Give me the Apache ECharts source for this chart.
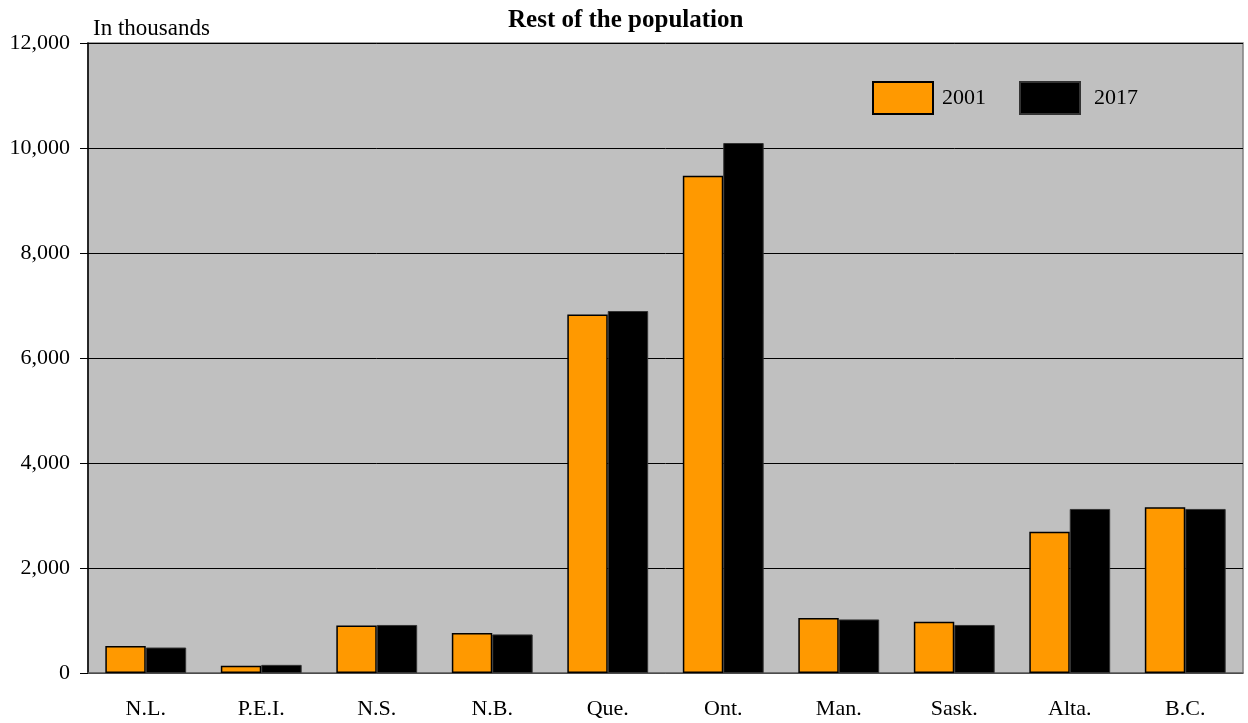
<!DOCTYPE html>
<html>
<head>
<meta charset="utf-8">
<script src="https://cdn.jsdelivr.net/npm/echarts@6/dist/echarts.min.js"></script>
<style>
    html, body { margin: 0; padding: 0; background: #fff; }
    #chart { width: 1248px; height: 723px; }
</style>
</head>
<body>
<div id="chart"></div>
<script>
    // data (thousands)
    var provinces = ['N.L.', 'P.E.I.', 'N.S.', 'N.B.', 'Que.', 'Ont.', 'Man.', 'Sask.', 'Alta.', 'B.C.'];
    var pop2001 = [515, 140, 905, 760, 6830, 9470, 1050, 975, 2690, 3155];
    var pop2017 = [485, 155, 915, 735, 6895, 10095, 1020, 915, 3125, 3125];
    var yTicks = [0, 2000, 4000, 6000, 8000, 10000, 12000];

    var serif = '"Liberation Serif", "DejaVu Serif", serif';
    var myChart = echarts.init(document.getElementById('chart'));

    var option = {
        animation: false,
        textStyle: { fontFamily: serif, color: '#000' },
        title: [{
            text: 'Rest of the population',
            left: 503,
            top: 3,
            textStyle: { fontFamily: serif, fontSize: 25, fontWeight: 'bold', color: '#000' }
        }, {
            text: 'In thousands',
            left: 88,
            top: 12,
            textStyle: { fontFamily: serif, fontSize: 23, fontWeight: 'normal', color: '#000' }
        }],
        legend: [{
            left: 872,
            top: 81,
            padding: 0,
            itemWidth: 60,
            itemHeight: 32,
            icon: 'rect',
            data: ['2001'],
            textStyle: { fontFamily: serif, fontSize: 22, color: '#000', padding: [0, 0, 0, 4] }
        }, {
            left: 1019,
            top: 81,
            padding: 0,
            itemWidth: 60,
            itemHeight: 32,
            icon: 'rect',
            data: ['2017'],
            textStyle: { fontFamily: serif, fontSize: 22, color: '#000', padding: [0, 0, 0, 9] }
        }],
        grid: {
            left: 88,
            right: 5,
            top: 43,
            bottom: 50,
            show: true,
            backgroundColor: '#c0c0c0',
            borderColor: '#808080',
            borderWidth: 1.5
        },
        xAxis: {
            type: 'category',
            data: provinces,
            axisLine: { lineStyle: { color: '#666', width: 1.5 } },
            axisTick: { show: false },
            axisLabel: { fontFamily: serif, fontSize: 22, color: '#000', margin: 25 }
        },
        yAxis: {
            type: 'value',
            min: 0,
            max: 12000,
            interval: 2000,
            axisLine: { show: true, lineStyle: { color: '#000', width: 1.5 } },
            axisTick: { show: true, inside: false, length: 8, lineStyle: { color: '#000' } },
            splitLine: { lineStyle: { color: '#000', width: 1 } },
            axisLabel: {
                fontFamily: serif, fontSize: 22, color: '#000', margin: 18,
                formatter: function (v) {
                    return yTicks.indexOf(v) >= 0 ? v.toLocaleString('en-US') : '';
                }
            }
        },
        series: [{
            name: '2001',
            type: 'bar',
            data: pop2001,
            barGap: '0%',
            barCategoryGap: '30%',
            itemStyle: { color: '#ff9900', borderColor: '#000', borderWidth: 1.5 }
        }, {
            name: '2017',
            type: 'bar',
            data: pop2017,
            itemStyle: { color: '#000', borderColor: '#333', borderWidth: 1 }
        }]
    };

    myChart.setOption(option);
</script>
</body>
</html>
